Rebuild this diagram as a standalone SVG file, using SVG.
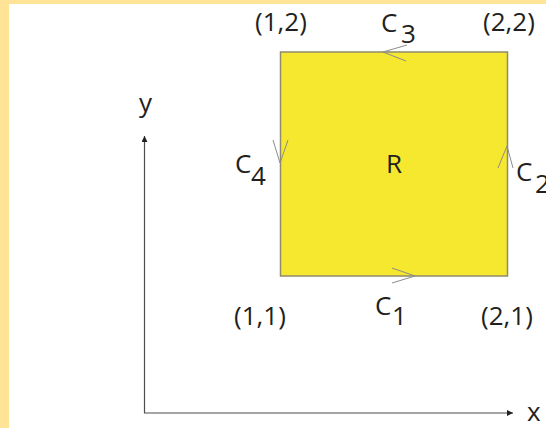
<svg xmlns="http://www.w3.org/2000/svg" width="546" height="428" viewBox="0 0 546 428">
<defs>
<style>
.t{font-family:"Open Sans","Liberation Sans",sans-serif;font-size:26px;fill:#231f20}
.ax{stroke:#4d4d4d;stroke-width:1.2;fill:none}
.chev{stroke:#8c8c8c;stroke-width:1;fill:none}
</style>
<marker id="ah" viewBox="0 0 10 10" refX="10" refY="5" markerWidth="9" markerHeight="6" markerUnits="userSpaceOnUse" orient="auto">
<path d="M0,0 L10,5 L0,10 Z" fill="#231f20"/>
</marker>
</defs>
<rect x="0" y="0" width="546" height="428" fill="#FFE497"/>
<rect x="9" y="4" width="537" height="424" fill="#ffffff"/>
<g id="region">
<rect x="280.5" y="52" width="227" height="224" fill="#F6E82F" stroke="#8f8a6e" stroke-width="1.5"/>
<text class="t" x="386" y="173">R</text>
</g>
<g id="connectors">
<path class="ax" d="M144.5,413 V136" marker-end="url(#ah)"/>
<path class="ax" d="M144,413 H513" marker-end="url(#ah)"/>
<path class="chev" d="M392,268 L415,276 L392,283"/>
<path class="chev" d="M498,168 L507,146 L513,168"/>
<path class="chev" d="M407,45 L383,52 L406,61"/>
<path class="chev" d="M273,140 L280,163 L288,140"/>
</g>
<g id="labels">
<text class="t" x="139" y="112">y</text>
<text class="t" x="527" y="421">x</text>
<text class="t" x="255" y="31">(1,2)</text>
<text class="t" x="483" y="31">(2,2)</text>
<text class="t" x="234" y="325">(1,1)</text>
<text class="t" x="481" y="325">(2,1)</text>
<text class="t" x="381" y="32">C</text><text class="t" x="401" y="43">3</text>
<text class="t" x="235" y="173">C</text><text class="t" x="251" y="185">4</text>
<text class="t" x="516" y="181">C</text><text class="t" x="535" y="193">2</text>
<text class="t" x="375" y="315">C</text><text class="t" x="392" y="325">1</text>
</g>
</svg>
